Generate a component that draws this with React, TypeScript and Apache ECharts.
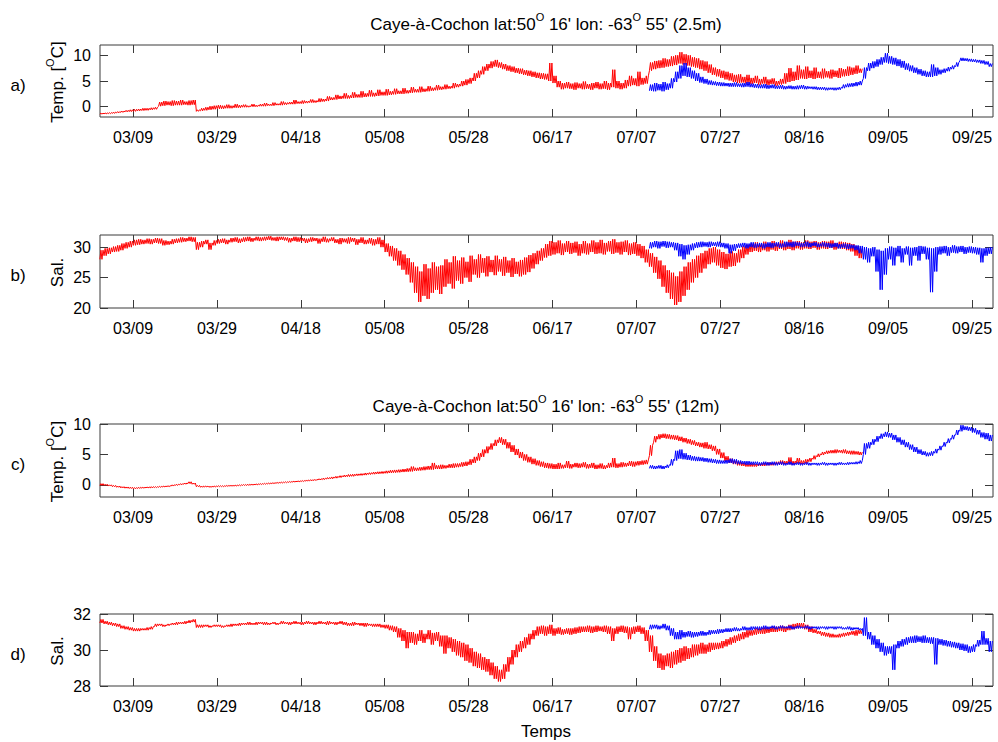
import React, { useEffect, useRef } from 'react';
import * as echarts from 'echarts';

// ---- axis ticks (days since 1 March) ----
const tickDays = [8, 28, 48, 68, 88, 108, 128, 148, 168, 188, 208];
const tickLabels = ['03/09', '03/29', '04/18', '05/08', '05/28', '06/17', '07/07', '07/27', '08/16', '09/05', '09/25'];
const xMin = 0.13;
const xMax = 213;
const redStartDay = 0;
const blueStartDay = 131;
const titleDepths = ['2.5m', '12m'];
const panelLetters = ['a)', 'b)', 'c)', 'd)'];
const yTicksA = [0, 5, 10];
const yTicksB = [20, 25, 30];
const yTicksC = [0, 5, 10];
const yTicksD = [28, 30, 32];

// ---- a) temperature 2.5 m : daily low / high ----
const tempSurfRedLo = [
  -1.45, -1.4, -1.35, -1.3, -1.2, -1.1, -1.0, -0.95, -0.9, -0.8,
  -0.75, -0.7, -0.6, -0.5, 0.1, 0.2, 0.3, 0.2, 0.3, 0.3,
  0.4, 0.3, 0.4, -0.9, -0.8, -0.7, -0.6, -0.5, -0.4, -0.4,
  -0.3, -0.3, -0.2, -0.2, -0.1, -0.1, 0.0, 0.0, 0.1, 0.1,
  0.2, 0.2, 0.3, 0.3, 0.4, 0.5, 0.5, 0.6, 0.6, 0.7,
  0.8, 0.8, 0.9, 1.0, 1.1, 1.3, 1.4, 1.5, 1.6, 1.6,
  1.7, 1.8, 1.8, 1.9, 2.0, 2.0, 2.1, 2.2, 2.2, 2.3,
  2.4, 2.5, 2.5, 2.6, 2.7, 2.8, 2.8, 2.9, 3.0, 3.1,
  3.2, 3.3, 3.4, 3.5, 3.6, 3.8, 4.0, 4.2, 4.5, 5.0,
  5.6, 6.3, 7.0, 7.5, 7.8, 7.6, 7.3, 7.0, 6.8, 6.6,
  6.4, 6.2, 6.0, 5.8, 5.6, 5.4, 5.3, 5.0, 4.6, 3.8,
  3.4, 3.6, 3.5, 3.3, 3.6, 3.4, 3.5, 3.3, 3.6, 3.4,
  3.5, 3.3, 3.8, 3.6, 3.4, 3.6, 4.0, 4.2, 4.0, 4.3,
  4.5, 7.0, 7.3, 7.5, 7.6, 7.8, 7.9, 8.1, 8.4, 8.2,
  8.0, 7.8, 7.6, 7.3, 7.0, 6.6, 6.2, 5.9, 5.6, 5.3,
  5.1, 4.8, 4.6, 4.7, 4.5, 4.4, 4.6, 4.3, 4.5, 4.2,
  4.4, 4.1, 4.3, 4.5, 4.8, 5.0, 5.2, 5.5, 5.4, 5.6,
  5.4, 5.6, 5.5, 5.7, 5.5, 5.8, 5.6, 5.9, 6.0, 6.2,
  6.4, 6.6,
];
const tempSurfRedHi = [
  -1.25, -1.2, -1.15, -1.05, -0.95, -0.85, -0.7, -0.6, -0.5, -0.45,
  -0.3, -0.3, -0.2, -0.1, 0.9, 1.1, 1.0, 1.2, 1.1, 1.3,
  1.0, 1.2, 1.3, -0.6, -0.3, -0.1, 0.1, 0.2, 0.3, 0.2,
  0.4, 0.2, 0.5, 0.3, 0.4, 0.2, 0.5, 0.3, 0.5, 0.7,
  0.5, 0.8, 0.6, 1.0, 0.8, 0.9, 1.3, 1.0, 1.2, 1.1,
  1.4, 1.2, 1.6, 1.5, 2.0, 1.8, 2.3, 2.1, 2.6, 2.2,
  2.8, 2.4, 3.0, 2.6, 3.2, 2.7, 3.3, 2.9, 3.4, 3.0,
  3.5, 3.1, 3.6, 3.2, 3.8, 3.4, 3.9, 3.5, 4.0, 3.7,
  4.2, 3.9, 4.3, 4.0, 4.6, 4.4, 5.0, 5.3, 5.6, 6.5,
  7.0, 7.8, 8.3, 8.8, 9.1, 8.6, 8.3, 8.0, 7.8, 7.5,
  7.4, 7.1, 7.0, 6.8, 6.6, 6.5, 6.4, 8.5, 6.0, 5.0,
  4.6, 4.8, 4.5, 4.7, 4.5, 4.9, 4.4, 4.6, 4.8, 4.5,
  5.0, 4.6, 7.2, 5.0, 4.6, 5.2, 6.0, 5.5, 6.8, 5.6,
  6.0, 8.6, 8.9, 9.0, 9.4, 9.2, 9.8, 10.0, 10.6, 10.2,
  10.0, 9.6, 9.4, 9.0, 8.8, 8.2, 7.6, 7.3, 7.0, 6.8,
  6.5, 6.2, 6.3, 5.8, 6.2, 5.6, 6.0, 5.4, 5.8, 5.3,
  5.5, 5.0, 5.4, 6.5, 7.5, 6.8, 8.0, 7.2, 7.8, 7.0,
  7.6, 6.8, 7.4, 6.9, 7.2, 7.0, 7.5, 7.3, 7.8, 7.6,
  8.0, 7.4,
];
const tempSurfBlueLo = [
  3.1, 3.0, 3.2, 3.0, 3.3, 3.6, 4.8, 5.5, 6.0, 5.8,
  5.5, 5.0, 4.7, 4.5, 4.3, 4.2, 4.1, 4.0, 4.0, 3.9,
  3.9, 3.9, 3.8, 3.9, 3.8, 3.7, 3.6, 3.6, 3.5, 3.6,
  3.5, 3.5, 3.4, 3.5, 3.4, 3.4, 3.5, 3.4, 3.5, 3.4,
  3.3, 3.3, 3.2, 3.3, 3.2, 3.3, 3.6, 3.8, 3.9, 4.0,
  4.2, 5.5, 7.0, 7.5, 7.8, 8.2, 8.6, 8.4, 8.2, 7.9,
  7.6, 7.2, 6.9, 6.6, 6.3, 6.0, 5.8, 5.8, 6.0, 6.3,
  6.6, 6.9, 7.3, 7.8, 8.9, 8.9, 8.8, 8.7, 8.6, 8.4,
  8.2, 7.8,
];
const tempSurfBlueHi = [
  4.3, 4.6, 4.4, 4.8, 4.5, 5.5, 6.8, 8.0, 8.5, 7.6,
  7.0, 6.5, 5.8, 5.4, 5.1, 4.9, 4.8, 4.7, 4.6, 4.6,
  4.7, 4.5, 4.6, 4.8, 4.5, 4.4, 4.3, 4.4, 4.2, 4.3,
  4.1, 4.2, 4.0, 4.1, 4.0, 4.1, 4.2, 4.0, 3.9, 3.9,
  3.8, 3.8, 3.7, 3.7, 3.7, 3.8, 4.3, 4.5, 4.6, 4.8,
  5.0, 7.6, 8.5, 8.8, 9.2, 9.6, 10.4, 9.8, 9.5, 9.2,
  8.9, 8.4, 8.0, 7.6, 7.3, 7.0, 6.8, 8.2, 7.6, 7.2,
  7.4, 7.7, 8.0, 8.6, 9.5, 9.4, 9.3, 9.2, 9.1, 9.0,
  8.8, 8.4,
];

// ---- b) salinity 2.5 m ----
const salSurfRedLo = [
  28.0, 28.6, 28.9, 29.2, 29.3, 29.5, 29.8, 30.0, 30.3, 30.4,
  30.5, 30.6, 30.5, 30.7, 30.6, 30.3, 30.4, 30.5, 30.7, 30.8,
  30.9, 31.0, 30.9, 29.6, 30.0, 30.5, 29.6, 30.3, 30.6, 30.7,
  30.5, 30.8, 30.9, 30.7, 30.9, 31.0, 30.9, 31.1, 31.0, 31.1,
  31.2, 31.1, 31.0, 31.2, 31.1, 30.8, 31.0, 30.9, 31.0, 30.7,
  30.9, 31.0, 30.6, 30.9, 30.8, 31.0, 30.7, 30.5, 30.8, 30.6,
  30.9, 30.4, 30.7, 30.5, 30.6, 30.3, 30.5, 30.0, 29.2, 28.5,
  27.8, 27.0, 26.3, 25.5, 24.2, 22.5, 21.0, 22.0, 21.5, 22.5,
  23.0, 22.3, 23.5, 24.0, 23.2, 24.5, 24.0, 25.0, 24.3, 25.5,
  25.0, 25.8, 25.2, 25.9, 25.4, 26.0, 25.3, 25.8, 25.1, 25.6,
  25.2, 25.5, 25.9, 26.5, 27.2, 27.8, 28.3, 28.6, 28.8, 29.0,
  28.7, 29.2, 28.9, 29.1, 28.6, 29.0, 28.8, 29.2, 28.9, 29.0,
  28.8, 29.3, 28.9, 29.1, 28.8, 29.2, 28.7, 28.9, 28.6, 28.2,
  27.5, 26.8, 25.8, 24.8, 23.5, 22.5, 21.5, 20.5, 21.0, 22.0,
  23.0, 24.2, 25.0, 25.8, 26.5, 27.2, 27.5, 27.0, 26.6, 26.4,
  26.8, 26.9, 27.5, 28.2, 28.8, 29.2, 29.4, 29.2, 29.5, 29.3,
  29.6, 29.4, 29.7, 29.5, 29.7, 29.5, 29.8, 29.6, 29.8, 29.7,
  29.9, 29.6, 29.8, 29.7, 29.9, 29.6, 29.8, 29.7, 29.5, 29.3,
  28.6, 28.2,
];
const salSurfRedHi = [
  29.5, 29.8, 29.9, 30.1, 30.3, 30.6, 30.8, 31.0, 31.2, 31.3,
  31.2, 31.4, 31.3, 31.5, 31.4, 31.1, 31.0, 31.3, 31.4, 31.6,
  31.5, 31.7, 31.6, 30.8, 31.0, 31.2, 30.7, 31.1, 31.3, 31.4,
  31.2, 31.5, 31.6, 31.4, 31.6, 31.7, 31.5, 31.7, 31.6, 31.7,
  31.8, 31.6, 31.7, 31.7, 31.6, 31.5, 31.7, 31.6, 31.5, 31.4,
  31.6, 31.5, 31.4, 31.7, 31.4, 31.6, 31.3, 31.5, 31.4, 31.6,
  31.5, 31.3, 31.6, 31.2, 31.5, 31.3, 31.6, 31.2, 30.6, 30.2,
  29.8, 29.4, 28.8, 28.2, 27.5, 26.8, 26.0, 27.2, 26.5, 27.5,
  26.8, 27.0, 28.0, 27.5, 28.5, 27.8, 28.3, 27.6, 28.6, 28.0,
  28.8, 28.2, 28.5, 27.9, 28.6, 28.0, 28.4, 27.8, 28.2, 27.6,
  27.9, 28.3, 28.7, 29.0, 29.4, 29.8, 30.5, 31.0, 30.8, 31.1,
  30.6, 31.0, 30.7, 30.9, 30.5, 31.0, 30.6, 31.1, 30.8, 31.2,
  30.7, 31.0, 31.3, 30.8, 30.9, 31.1, 30.6, 30.8, 30.5, 30.2,
  29.6, 29.0, 28.4, 27.8, 27.0, 26.2, 25.8, 25.2, 26.0, 26.8,
  27.5, 28.0, 28.6, 29.0, 29.4, 29.8, 30.0, 29.6, 29.2, 28.9,
  29.3, 29.0, 29.6, 30.1, 30.4, 30.6, 30.8, 30.5, 30.9, 30.6,
  31.0, 30.7, 31.1, 30.8, 31.2, 30.9, 31.0, 30.8, 31.1, 30.9,
  31.0, 30.8, 31.0, 30.9, 31.1, 30.7, 30.9, 30.8, 30.7, 30.5,
  30.2, 29.8,
];
const salSurfBlueLo = [
  29.8, 30.0, 29.8, 30.1, 29.9, 30.0, 29.5, 28.5, 28.0, 28.8,
  29.5, 29.9, 30.0, 30.1, 30.0, 30.2, 30.1, 30.0, 29.8, 29.0,
  29.4, 29.9, 30.0, 29.8, 30.0, 29.9, 30.0, 29.8, 30.0, 29.9,
  30.1, 29.9, 30.0, 30.1, 30.0, 30.2, 30.0, 30.1, 30.0, 30.2,
  30.0, 30.1, 30.0, 29.9, 30.0, 29.8, 29.9, 29.7, 29.8, 29.5,
  29.0, 28.0, 27.5, 28.5, 26.0, 23.0, 25.5, 28.0, 27.0, 28.5,
  27.5, 28.8, 27.0, 28.6, 27.8, 28.9, 28.0, 22.6, 26.0, 28.8,
  29.0, 28.6, 29.1, 29.0, 29.2, 28.9, 29.1, 29.0, 28.8, 27.5,
  28.6, 28.9,
];
const salSurfBlueHi = [
  30.8, 31.0, 30.9, 31.0, 30.9, 30.8, 30.7, 30.5, 30.3, 30.4,
  30.6, 30.8, 30.9, 30.8, 30.9, 30.8, 30.9, 30.7, 30.6, 30.4,
  30.5, 30.6, 30.7, 30.6, 30.8, 30.6, 30.7, 30.6, 30.8, 30.7,
  30.8, 30.6, 30.9, 30.8, 30.9, 30.8, 30.7, 30.9, 30.7, 30.8,
  30.6, 30.8, 30.7, 30.6, 30.7, 30.5, 30.6, 30.5, 30.4, 30.3,
  30.2, 30.0, 29.8, 30.0, 29.6, 29.4, 29.8, 30.1, 29.9, 30.2,
  29.8, 30.1, 29.9, 30.0, 30.2, 30.1, 29.9, 29.8, 30.0, 30.1,
  30.2, 30.0, 30.3, 30.1, 30.2, 30.0, 30.1, 30.0, 29.9, 29.8,
  29.9, 30.0,
];

// ---- c) temperature 12 m ----
const tempDeepRedLo = [
  -0.1, -0.1, -0.2, -0.3, -0.4, -0.5, -0.55, -0.6, -0.65, -0.6,
  -0.55, -0.5, -0.5, -0.45, -0.4, -0.35, -0.3, -0.2, -0.1, 0.0,
  0.1, 0.2, 0.1, -0.3, -0.4, -0.35, -0.4, -0.35, -0.3, -0.3,
  -0.25, -0.2, -0.2, -0.15, -0.1, -0.1, -0.05, 0.0, 0.05, 0.1,
  0.15, 0.2, 0.25, 0.3, 0.35, 0.4, 0.45, 0.5, 0.55, 0.6,
  0.65, 0.7, 0.8, 0.85, 0.95, 1.0, 1.1, 1.2, 1.3, 1.35,
  1.4, 1.5, 1.55, 1.6, 1.7, 1.75, 1.8, 1.85, 1.9, 1.95,
  2.0, 2.05, 2.1, 2.15, 2.2, 2.3, 2.35, 2.4, 2.5, 2.5,
  2.6, 2.6, 2.7, 2.8, 2.8, 2.9, 3.0, 3.1, 3.3, 3.6,
  4.0, 4.6, 5.2, 5.8, 6.4, 6.9, 6.6, 6.0, 5.4, 4.9,
  4.4, 4.0, 3.7, 3.4, 3.2, 3.0, 2.8, 2.7, 2.6, 2.6,
  2.7, 2.8, 2.7, 2.9, 2.8, 2.9, 2.7, 2.8, 2.6, 2.7,
  2.6, 2.8, 2.9, 2.8, 2.9, 3.0, 3.1, 3.0, 3.2, 3.3,
  3.4, 4.8, 7.0, 7.5, 7.7, 7.6, 7.5, 7.4, 7.2, 7.0,
  6.8, 6.6, 6.4, 6.2, 6.0, 5.9, 5.6, 5.0, 4.4, 3.9,
  3.6, 3.4, 3.2, 3.1, 3.0, 3.0, 3.0, 3.1, 3.1, 3.2,
  3.2, 3.3, 3.3, 3.4, 3.4, 3.3, 3.5, 3.4, 3.5, 3.8,
  4.2, 4.6, 4.9, 5.1, 5.2, 5.2, 5.3, 5.2, 5.1, 5.0,
  5.0, 4.9,
];
const tempDeepRedHi = [
  0.2, 0.1, 0.0, -0.1, -0.2, -0.3, -0.35, -0.4, -0.45, -0.4,
  -0.4, -0.35, -0.3, -0.3, -0.25, -0.2, -0.15, 0.0, 0.1, 0.2,
  0.3, 0.5, 0.3, -0.1, -0.2, -0.2, -0.25, -0.2, -0.15, -0.15,
  -0.1, -0.1, -0.05, 0.0, 0.05, 0.1, 0.1, 0.15, 0.2, 0.25,
  0.3, 0.35, 0.4, 0.45, 0.5, 0.55, 0.6, 0.65, 0.7, 0.8,
  0.85, 0.9, 1.0, 1.1, 1.2, 1.3, 1.4, 1.5, 1.6, 1.7,
  1.75, 1.8, 1.85, 1.95, 2.0, 2.1, 2.15, 2.2, 2.3, 2.4,
  2.45, 2.5, 2.6, 2.7, 3.0, 2.8, 2.9, 3.0, 3.1, 3.6,
  3.2, 3.3, 3.2, 3.4, 3.5, 3.5, 3.7, 3.8, 4.2, 4.6,
  5.2, 5.8, 6.3, 6.8, 7.4, 7.8, 7.5, 7.0, 6.5, 5.9,
  5.4, 5.0, 4.6, 4.3, 4.0, 3.8, 3.6, 3.5, 3.4, 3.6,
  3.3, 3.9, 3.4, 3.6, 3.5, 3.7, 3.4, 3.6, 3.3, 3.5,
  3.2, 3.6, 4.4, 3.5, 3.7, 3.6, 3.9, 3.8, 3.9, 4.0,
  4.1, 6.5, 8.0, 8.3, 8.4, 8.3, 8.2, 8.1, 7.9, 7.7,
  7.5, 7.3, 7.0, 6.9, 7.0, 6.6, 6.4, 5.9, 5.3, 4.7,
  4.3, 4.0, 3.8, 3.6, 3.5, 3.5, 3.4, 3.5, 3.6, 3.7,
  3.6, 3.8, 4.0, 3.9, 4.5, 3.9, 4.4, 4.0, 4.2, 4.4,
  4.8, 5.1, 5.4, 5.6, 5.7, 5.8, 5.7, 5.8, 5.6, 5.6,
  5.5, 5.4,
];
const tempDeepBlueLo = [
  2.7, 2.6, 2.7, 2.6, 2.8, 3.2, 4.0, 4.3, 4.2, 4.1,
  4.0, 3.9, 3.9, 3.8, 3.7, 3.6, 3.5, 3.5, 3.5, 3.6,
  3.5, 3.4, 3.4, 3.3, 3.3, 3.3, 3.2, 3.3, 3.2, 3.3,
  3.2, 3.3, 3.2, 3.3, 3.2, 3.3, 3.2, 3.3, 3.2, 3.3,
  3.2, 3.3, 3.2, 3.3, 3.2, 3.3, 3.3, 3.3, 3.4, 3.4,
  3.5, 5.0, 6.0, 6.6, 7.1, 7.6, 7.9, 7.8, 7.4, 7.0,
  6.6, 6.2, 5.8, 5.4, 5.1, 4.9, 4.7, 4.8, 5.2, 5.7,
  6.3, 6.9, 7.5, 8.2, 8.8, 9.0, 8.9, 8.6, 8.3, 7.8,
  7.5, 7.2,
];
const tempDeepBlueHi = [
  3.2, 3.1, 3.2, 3.1, 3.3, 4.2, 5.6, 5.8, 5.2, 4.9,
  4.7, 4.6, 4.5, 4.4, 4.3, 4.2, 4.1, 4.0, 4.1, 4.3,
  4.2, 4.0, 3.9, 3.9, 3.8, 3.8, 3.7, 3.8, 3.7, 3.8,
  3.7, 3.8, 3.6, 3.8, 3.6, 3.7, 3.6, 3.7, 3.6, 3.6,
  3.6, 3.7, 3.6, 3.6, 3.6, 3.7, 3.6, 3.7, 3.7, 3.8,
  4.0, 6.8, 7.0, 7.5, 8.0, 8.4, 8.7, 8.5, 8.2, 7.8,
  7.4, 7.0, 6.6, 6.2, 5.8, 5.5, 5.3, 5.5, 5.9, 6.4,
  7.0, 7.6, 8.2, 9.0, 9.8, 9.6, 9.5, 9.3, 9.0, 8.6,
  8.5, 8.2,
];

// ---- d) salinity 12 m ----
const salDeepRedLo = [
  31.5, 31.45, 31.4, 31.35, 31.3, 31.2, 31.15, 31.1, 31.05, 31.05,
  31.1, 31.1, 31.15, 31.3, 31.35, 31.3, 31.35, 31.4, 31.4, 31.45,
  31.45, 31.5, 31.55, 31.25, 31.25, 31.3, 31.25, 31.3, 31.3, 31.25,
  31.3, 31.3, 31.35, 31.35, 31.4, 31.4, 31.4, 31.4, 31.45, 31.4,
  31.4, 31.45, 31.4, 31.45, 31.45, 31.4, 31.45, 31.45, 31.4, 31.45,
  31.45, 31.4, 31.45, 31.45, 31.4, 31.45, 31.4, 31.45, 31.4, 31.35,
  31.35, 31.4, 31.35, 31.3, 31.35, 31.3, 31.3, 31.25, 31.2, 31.1,
  31.0, 30.7, 30.5, 30.1, 30.4, 30.3, 30.5, 30.4, 30.6, 30.3,
  30.5, 30.2, 29.8, 30.1, 29.9, 29.7, 29.6, 29.4, 29.3, 29.1,
  29.0, 28.9, 28.8, 28.6, 28.4, 28.25, 28.4, 28.8, 29.2, 29.6,
  29.9, 30.1, 30.3, 30.6, 30.8, 30.9, 30.8, 30.9, 30.8, 30.9,
  30.85, 30.9, 30.85, 30.9, 30.95, 31.0, 31.0, 30.95, 31.0, 31.05,
  31.0, 30.9, 30.5, 30.9, 31.0, 30.95, 30.6, 30.9, 31.0, 30.9,
  30.5, 29.9, 29.4, 29.0, 28.9, 29.1, 29.0, 29.2, 29.3, 29.4,
  29.5, 29.6, 29.7, 29.8, 29.8, 29.9, 30.0, 30.05, 30.1, 30.2,
  30.3, 30.4, 30.5, 30.6, 30.7, 30.8, 30.85, 30.9, 30.9, 30.95,
  31.0, 31.0, 31.05, 31.0, 31.1, 31.15, 31.2, 31.25, 31.15, 31.0,
  30.95, 30.9, 30.8, 30.75, 30.7, 30.7, 30.7, 30.75, 30.8, 30.85,
  30.8, 30.9,
];
const salDeepRedHi = [
  31.7, 31.6, 31.55, 31.5, 31.45, 31.35, 31.3, 31.25, 31.2, 31.2,
  31.2, 31.25, 31.3, 31.45, 31.45, 31.4, 31.45, 31.5, 31.55, 31.55,
  31.6, 31.65, 31.7, 31.4, 31.4, 31.4, 31.35, 31.4, 31.4, 31.35,
  31.4, 31.45, 31.45, 31.5, 31.5, 31.55, 31.5, 31.55, 31.55, 31.55,
  31.5, 31.55, 31.5, 31.6, 31.55, 31.55, 31.6, 31.55, 31.55, 31.6,
  31.55, 31.55, 31.6, 31.55, 31.6, 31.55, 31.55, 31.6, 31.55, 31.5,
  31.55, 31.5, 31.5, 31.5, 31.45, 31.45, 31.45, 31.4, 31.4, 31.35,
  31.3, 31.2, 31.1, 31.0, 31.0, 30.9, 31.1, 30.9, 31.1, 30.95,
  31.0, 30.8, 30.8, 30.7, 30.6, 30.5, 30.4, 30.3, 30.1, 29.9,
  29.8, 29.6, 29.5, 29.3, 29.1, 28.9, 29.2, 29.6, 30.0, 30.3,
  30.5, 30.7, 30.9, 31.1, 31.3, 31.35, 31.3, 31.4, 31.2, 31.25,
  31.15, 31.2, 31.2, 31.25, 31.3, 31.3, 31.35, 31.3, 31.35, 31.3,
  31.35, 31.3, 31.2, 31.3, 31.35, 31.3, 31.25, 31.3, 31.35, 31.25,
  31.1, 30.8, 30.2, 29.8, 29.7, 29.8, 29.9, 30.0, 30.1, 30.2,
  30.1, 30.3, 30.3, 30.4, 30.3, 30.4, 30.4, 30.4, 30.5, 30.6,
  30.7, 30.8, 30.9, 31.0, 31.1, 31.1, 31.2, 31.2, 31.25, 31.25,
  31.3, 31.3, 31.35, 31.3, 31.4, 31.45, 31.5, 31.5, 31.4, 31.3,
  31.15, 31.05, 31.0, 30.95, 30.9, 30.85, 30.9, 30.95, 31.0, 31.05,
  31.1, 31.1,
];
const salDeepBlueLo = [
  31.15, 31.2, 31.15, 31.2, 31.1, 30.8, 30.6, 30.6, 30.7, 30.75,
  30.7, 30.75, 30.8, 30.8, 30.85, 30.9, 30.9, 30.95, 31.0, 31.0,
  31.05, 31.05, 31.1, 31.1, 31.1, 31.15, 31.1, 31.15, 31.15, 31.2,
  31.15, 31.2, 31.2, 31.2, 31.15, 31.2, 31.2, 31.2, 31.15, 31.2,
  31.15, 31.2, 31.15, 31.2, 31.15, 31.2, 31.15, 31.15, 31.1, 31.15,
  31.1, 30.8, 30.6, 30.3, 30.1, 29.9, 29.7, 29.8, 28.9, 30.1,
  30.2, 30.3, 30.4, 30.4, 30.45, 30.4, 30.4, 30.35, 29.2, 30.3,
  30.25, 30.2, 30.15, 30.1, 30.0, 29.95, 29.85, 29.9, 30.2, 30.3,
  30.3, 29.9,
];
const salDeepBlueHi = [
  31.4, 31.4, 31.35, 31.45, 31.35, 31.2, 31.0, 31.1, 31.0, 31.05,
  31.0, 31.0, 31.05, 31.0, 31.1, 31.1, 31.15, 31.15, 31.2, 31.2,
  31.25, 31.2, 31.3, 31.25, 31.3, 31.3, 31.3, 31.35, 31.3, 31.35,
  31.3, 31.35, 31.3, 31.35, 31.3, 31.35, 31.3, 31.35, 31.3, 31.3,
  31.3, 31.3, 31.3, 31.3, 31.3, 31.3, 31.25, 31.3, 31.25, 31.25,
  31.2, 31.8, 31.0, 30.8, 30.6, 30.4, 30.2, 30.2, 30.3, 30.5,
  30.6, 30.7, 30.75, 30.8, 30.75, 30.8, 30.7, 30.7, 30.65, 30.6,
  30.55, 30.5, 30.45, 30.4, 30.35, 30.3, 30.2, 30.3, 30.55, 31.05,
  30.65, 30.5,
];

const FONT = "'Liberation Sans', Arial, Helvetica, sans-serif";
const RED = '#ff0000';
const BLUE = '#0000ff';
const AXIS_COLOR = '#3a3a3a';

// each day's low / high, drawn as two semidiurnal swings
function zigzag(start: number, lo: number[], hi: number[]): number[][] {
  const pts: number[][] = [];
  for (let i = 0; i < lo.length; i++) {
    pts.push([start + i + 0.1, lo[i]]);
    pts.push([start + i + 0.35, hi[i]]);
    pts.push([start + i + 0.6, lo[i]]);
    pts.push([start + i + 0.85, hi[i]]);
  }
  return pts;
}

function richText(x: number, y: number, text: string, size: number, rotation = 0) {
  return {
    type: 'text',
    x,
    y,
    rotation,
    silent: true,
    style: {
      text,
      fill: '#000',
      fontSize: size,
      fontFamily: FONT,
      align: 'center',
      verticalAlign: 'middle',
      rich: {
        t: { fontSize: size, fontFamily: FONT, fill: '#000', color: '#000', lineHeight: size + 8 },
        s: { fontSize: Math.round(size * 0.62), fontFamily: FONT, fill: '#000', color: '#000', verticalAlign: 'top', lineHeight: Math.round(size * 0.62) + 2 },
      },
    },
  };
}

const titleText = (depth: string) => `{t|Caye-à-Cochon lat:50}{s|O}{t| 16' lon: -63}{s|O}{t| 55' (${depth})}`;

export default function App() {
  const ref = useRef<HTMLDivElement>(null);

  useEffect(() => {
    if (!ref.current) return;
    const chart = echarts.init(ref.current, undefined, { renderer: 'svg' });

    const panels = [
      { top: 45, height: 72, min: -2, max: 12, ticks: yTicksA, name: '{t|Temp. [}{s|O}{t|C]}', red: zigzag(redStartDay, tempSurfRedLo, tempSurfRedHi), blue: zigzag(blueStartDay, tempSurfBlueLo, tempSurfBlueHi) },
      { top: 235, height: 73, min: 20, max: 32, ticks: yTicksB, name: '{t|Sal.}', red: zigzag(redStartDay, salSurfRedLo, salSurfRedHi), blue: zigzag(blueStartDay, salSurfBlueLo, salSurfBlueHi) },
      { top: 424, height: 73, min: -2, max: 10, ticks: yTicksC, name: '{t|Temp. [}{s|O}{t|C]}', red: zigzag(redStartDay, tempDeepRedLo, tempDeepRedHi), blue: zigzag(blueStartDay, tempDeepBlueLo, tempDeepBlueHi) },
      { top: 614, height: 72, min: 28, max: 32, ticks: yTicksD, name: '{t|Sal.}', red: zigzag(redStartDay, salDeepRedLo, salDeepRedHi), blue: zigzag(blueStartDay, salDeepBlueLo, salDeepBlueHi) },
    ];

    const grids: any[] = [];
    const xAxes: any[] = [];
    const yAxes: any[] = [];
    const series: any[] = [];
    const graphics: any[] = [];

    const labelStyle = { color: '#000', fontSize: 16, fontFamily: FONT };

    panels.forEach((p, i) => {
      grids.push({
        left: 100, width: 893, top: p.top, height: p.height,
        show: true, borderColor: AXIS_COLOR, borderWidth: 1, backgroundColor: 'transparent',
      });
      ['bottom', 'top'].forEach((pos) => {
        xAxes.push({
          type: 'value', gridIndex: i, position: pos, min: xMin, max: xMax,
          axisLine: { show: false, onZero: false },
          axisTick: { show: true, inside: true, length: 8, customValues: tickDays, lineStyle: { color: AXIS_COLOR, width: 1 } },
          axisLabel: {
            show: pos === 'bottom', customValues: tickDays, margin: 12, ...labelStyle,
            formatter: (v: number) => {
              const k = tickDays.indexOf(Math.round(v));
              return k >= 0 ? tickLabels[k] : '';
            },
          },
          splitLine: { show: false },
        });
      });
      ['left', 'right'].forEach((pos) => {
        yAxes.push({
          type: 'value', gridIndex: i, position: pos, min: p.min, max: p.max,
          axisLine: { show: false, onZero: false },
          axisTick: { show: true, inside: true, length: 8, customValues: p.ticks, lineStyle: { color: AXIS_COLOR, width: 1 } },
          axisLabel: { show: pos === 'left', customValues: p.ticks, margin: 9, ...labelStyle, formatter: (v: number) => String(v) },
          splitLine: { show: false },
        });
      });
      series.push({
        type: 'line', xAxisIndex: 2 * i, yAxisIndex: 2 * i, data: p.red,
        showSymbol: false, symbol: 'none', silent: true,
        lineStyle: { color: RED, width: 1 }, itemStyle: { color: RED }, z: 2,
      });
      series.push({
        type: 'line', xAxisIndex: 2 * i, yAxisIndex: 2 * i, data: p.blue,
        showSymbol: false, symbol: 'none', silent: true,
        lineStyle: { color: BLUE, width: 1 }, itemStyle: { color: BLUE }, z: 3,
      });
      const cy = p.top + p.height / 2;
      graphics.push(richText(57, cy + 1, p.name, 17, Math.PI / 2));
      graphics.push({
        type: 'text', x: 18, y: cy + 4, silent: true,
        style: { text: panelLetters[i], fill: '#000', fontSize: 17, fontFamily: FONT, align: 'center', verticalAlign: 'middle' },
      });
    });

    graphics.push(richText(546, 24, titleText(titleDepths[0]), 17));
    graphics.push(richText(546, 406, titleText(titleDepths[1]), 17));
    graphics.push({
      type: 'text', x: 546, y: 731, silent: true,
      style: { text: 'Temps', fill: '#000', fontSize: 17, fontFamily: FONT, align: 'center', verticalAlign: 'middle' },
    });

    chart.setOption({
      animation: false,
      backgroundColor: '#ffffff',
      grid: grids,
      xAxis: xAxes,
      yAxis: yAxes,
      series,
      graphic: graphics,
    });

    return () => chart.dispose();
  }, []);

  return (
    <div
      ref={ref}
      style={{ position: 'absolute', left: 0, top: 0, width: 998, height: 742, background: '#fff' }}
    />
  );
}
